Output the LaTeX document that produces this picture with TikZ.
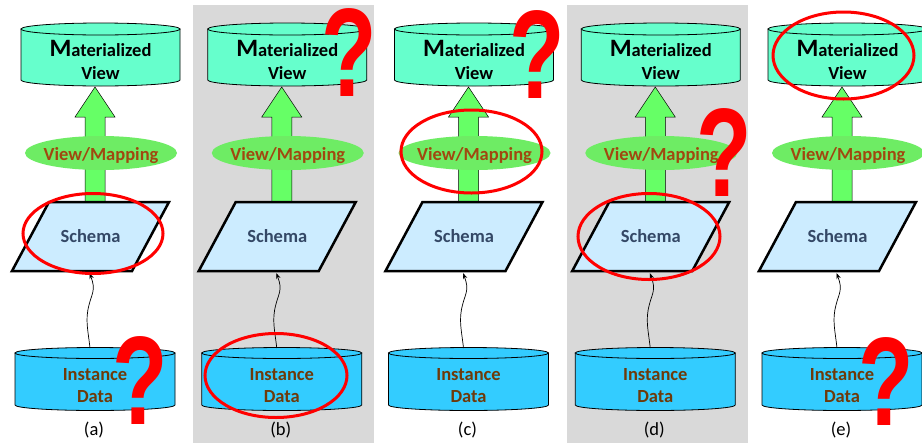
\documentclass[tikz,border=0pt]{standalone}
\usepackage{fontspec}
\setmainfont{Carlito}
\newfontfamily\markfont{Liberation Sans}
\usetikzlibrary{arrows.meta}

\definecolor{mvfill}{RGB}{102,255,204}
\definecolor{arrowgreen}{RGB}{102,255,102}
\definecolor{mapgreen}{RGB}{110,236,100}
\definecolor{mapbrown}{RGB}{160,72,16}
\definecolor{schfill}{RGB}{204,236,255}
\definecolor{schtext}{RGB}{52,72,102}
\definecolor{instfill}{RGB}{51,204,255}
\definecolor{insttext}{RGB}{110,58,10}
\definecolor{panelgray}{RGB}{217,217,217}
\definecolor{markred}{RGB}{255,0,0}

\tikzset{
  cylbody/.style={draw=black, line width=0.8pt},
  lbl/.style={font=\fontsize{18.5}{22}\selectfont\bfseries, align=center, inner sep=0pt},
  caption/.style={font=\fontsize{18.5}{22}\selectfont, inner sep=0pt},
  bigarrow/.style={fill=arrowgreen, draw=black, line width=0.5pt},
  schemabox/.style={fill=schfill, draw=black, line width=2.5pt, line join=miter},
  wiggle/.style={draw=black, line width=0.7pt, -{Stealth[length=6pt,width=4.5pt]}},
  redring/.style={draw=markred, line width=3pt},
  qmark/.style={font=\markfont\fontsize{126}{126}\selectfont\bfseries, text=markred, inner sep=0pt},
  shade/.style={fill=panelgray}
}

% database drum: centre x, top rim y, bottom rim y, half width, rim half height, fill
\newcommand\dbcyl[6]{%
  \filldraw[cylbody, fill=#6] ({#1-#4},#2) -- ({#1-#4},#3)
    arc[start angle=180, end angle=360, x radius=#4pt, y radius=#5pt]
    -- ({#1+#4},#2) -- cycle;
  \filldraw[cylbody, fill=#6] (#1,#2) ellipse[x radius=#4pt, y radius=#5pt];
}

% one column: data -> schema -> view/mapping -> materialized view
\newcommand\stack[2]{%
  \begin{scope}[xshift=#2pt]
    \dbcyl{100.5}{-29}{-80}{79.5}{6}{mvfill}
    \node[lbl, text=black, font=\fontsize{18.5}{23}\selectfont\bfseries] (mv-#1) at (100.5,-59.5)
      {{\fontsize{25}{25}\selectfont M}aterialized\\View};
    \filldraw[bigarrow] (85,-202) -- (85,-117) -- (75,-117) -- (95,-87)
      -- (115,-117) -- (105,-117) -- (105,-202) -- cycle;
    \fill[mapgreen] (101,-153) ellipse[x radius=76pt, y radius=17pt];
    \node[lbl, text=mapbrown] (map-#1) at (101,-156) {View/Mapping};
    \filldraw[schemabox] (49,-202) -- (169,-202) -- (132,-271) -- (12,-271) -- cycle;
    \node[lbl, text=schtext] (sch-#1) at (90.5,-236.5) {Schema};
    \dbcyl{95}{-353}{-405}{80}{5.5}{instfill}
    \node[lbl, text=insttext] (inst-#1) at (95,-386) {Instance\\Data};
    \coordinate (from-#1) at (90,-348);
    \coordinate (to-#1) at (89.5,-273);
    \draw[wiggle] (from-#1) .. controls (88,-330) and (85,-320) .. (89,-305)
      .. controls (92,-293) and (96,-290) .. (to-#1);
    \node[caption] (cap-#1) at (94,-430) {(#1)};
  \end{scope}
}

\begin{document}
\begin{tikzpicture}[x=1pt, y=1pt]
  \useasboundingbox (0,0) rectangle (922,-445);
  \clip (0,0) rectangle (922,-445);
  \fill[white] (0,0) rectangle (922,-445);

  % shaded columns
  \fill[shade] (193,-5) rectangle (374,-443);
  \fill[shade] (567,-5) rectangle (748,-443);

  \stack{a}{0}
  \stack{b}{186.75}
  \stack{c}{373.5}
  \stack{d}{560.25}
  \stack{e}{747}

  % highlighted parts
  \draw[redring] (93,-233.5) ellipse[x radius=70pt, y radius=40pt];
  \draw[redring] (276,-375.5) ellipse[x radius=71pt, y radius=42pt];
  \draw[redring] (471.5,-151.5) ellipse[x radius=70.5pt, y radius=41.5pt];
  \draw[redring] (649,-236.5) ellipse[x radius=71pt, y radius=43pt];
  \draw[redring] (843.5,-55.5) ellipse[x radius=70.5pt, y radius=43.5pt];

  % unknown parts
  \node[qmark] (q-a) at (140,-381) {\scalebox{0.72}[1]{?}};
  \node[qmark] (q-b) at (349,-53) {\scalebox{0.72}[1]{?}};
  \node[qmark] (q-c) at (537.5,-55) {\scalebox{0.72}[1]{?}};
  \node[qmark] (q-d) at (724.5,-153) {\scalebox{0.72}[1]{?}};
  \node[qmark] (q-e) at (886.5,-382) {\scalebox{0.72}[1]{?}};
\end{tikzpicture}
\end{document}
